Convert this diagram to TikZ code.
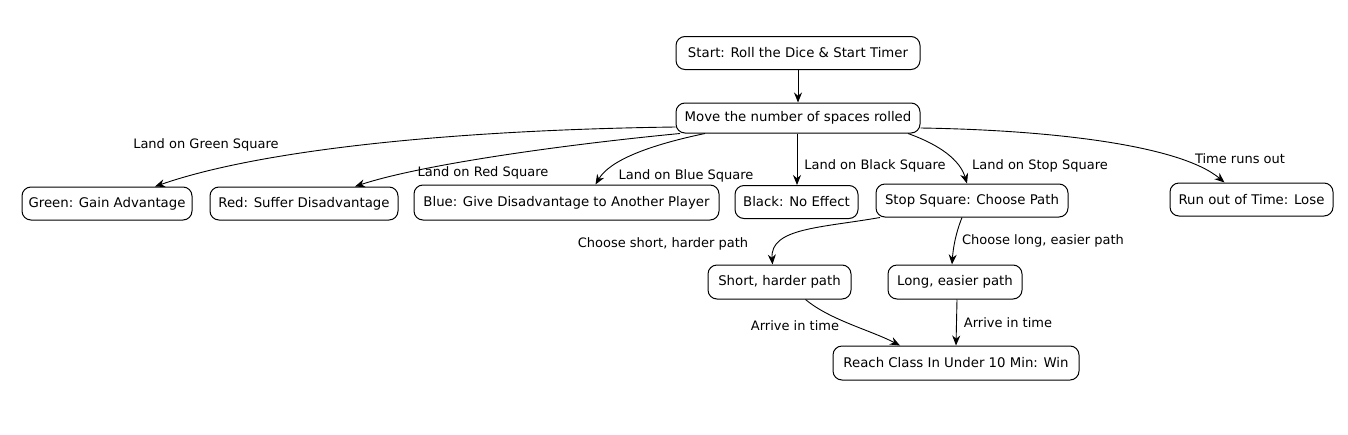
\documentclass[tikz,border=0pt]{standalone}
\usepackage{fontspec}
\setmainfont{DejaVu Sans}
\usetikzlibrary{arrows.meta}
\begin{document}
\begin{tikzpicture}[x=1pt,y=-1pt,
  box/.style={draw, rounded corners=9pt, line width=1pt, inner sep=0pt,
    font=\fontsize{13.3}{15}\selectfont, minimum height=33pt},
  arr/.style={-{Stealth[length=10pt,width=8pt]}, line width=0.9pt},
  lbl/.style={font=\fontsize{13}{15}\selectfont, inner sep=1pt}]
\useasboundingbox (0,0) rectangle (1348,434);
\node[box, minimum width=244pt] (start) at (798,53) {Start: Roll the Dice \& Start Timer};
\node[box, minimum width=244pt, minimum height=30pt] (move) at (798,118) {Move the number of spaces rolled};
\node[box, minimum width=170pt] (green) at (107,203.5) {Green: Gain Advantage};
\node[box, minimum width=188pt] (red) at (304,203.5) {Red: Suffer Disadvantage};
\node[box, minimum width=305pt, minimum height=35pt] (blue) at (566.5,202.5) {Blue: Give Disadvantage to Another Player};
\node[box, minimum width=123pt] (black) at (796.5,202) {Black: No Effect};
\node[box, minimum width=192pt] (stop) at (972,200.5) {Stop Square: Choose Path};
\node[box, minimum width=163pt] (lose) at (1251.5,199.5) {Run out of Time: Lose};
\node[box, minimum width=143pt, minimum height=34pt] (short) at (779.5,282) {Short, harder path};
\node[box, minimum width=134pt, minimum height=34pt] (long) at (955,282) {Long, easier path};
\node[box, minimum width=246pt, minimum height=34pt] (win) at (956,363) {Reach Class In Under 10 Min: Win};

\draw[arr] (start) -- (move);
\draw[arr] ([yshift=-9pt]move.west) .. controls (450,130) and (260,150) .. ([xshift=48pt]green.north);
\draw[arr] ([xshift=-118pt]move.south) .. controls (560,145) and (420,165) .. ([xshift=51pt]red.north);
\draw[arr] ([xshift=-93pt]move.south) .. controls (650,145) and (610,160) .. ([xshift=29pt]blue.north);
\draw[arr] ([xshift=-1pt]move.south) -- ([xshift=0.5pt]black.north);
\draw[arr] ([xshift=110pt]move.south) .. controls (940,145) and (960,160) .. ([xshift=-5pt]stop.north);
\draw[arr] ([yshift=-10pt]move.east) .. controls (1050,130) and (1180,145) .. ([xshift=-27pt]lose.north);
\draw[arr] ([xshift=-92pt]stop.south) .. controls (820,228) and (770,228) .. ([xshift=-7pt]short.north);
\draw[arr] ([xshift=-10pt]stop.south) .. controls (955,235) and (953,250) .. ([xshift=-3pt]long.north);
\draw[arr] ([xshift=26pt]short.south) .. controls (830,320) and (870,330) .. ([xshift=-56pt]win.north);
\draw[arr] ([xshift=2pt]long.south) -- (win.north);

\node[lbl] at (206,145) {Land on Green Square};
\node[lbl] at (483,173) {Land on Red Square};
\node[lbl] at (686,176) {Land on Blue Square};
\node[lbl] at (875,166) {Land on Black Square};
\node[lbl] at (1040,166) {Land on Stop Square};
\node[lbl] at (1240,159) {Time runs out};
\node[lbl] at (663,244) {Choose short, harder path};
\node[lbl] at (1043,241) {Choose long, easier path};
\node[lbl] at (795,326) {Arrive in time};
\node[lbl] at (1008,323) {Arrive in time};
\end{tikzpicture}
\end{document}
